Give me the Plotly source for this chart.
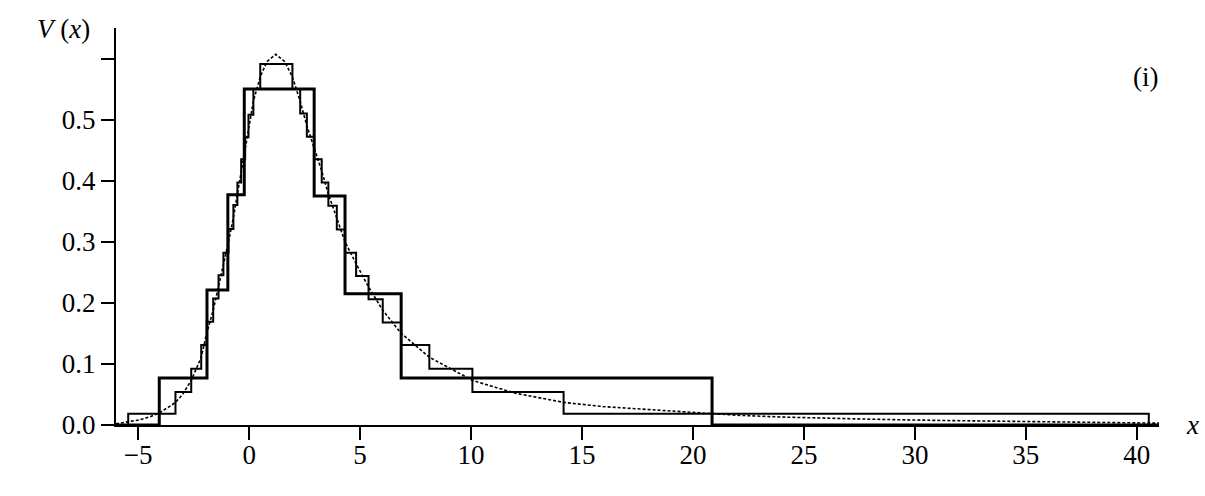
import plotly.graph_objects as go

# Coarse histogram (thick): bin edges and heights
coarse_edges = [-6, -4.05, -1.9, -0.96, -0.22, 2.93, 4.32, 6.85, 20.86, 41]
coarse_heights = [0, 0.077, 0.221, 0.377, 0.55, 0.375, 0.215, 0.077, 0]

# Fine histogram (thin): bin edges and heights
fine_edges = [-6, -5.45, -3.32, -2.61, -2.16, -1.91, -1.62, -1.38, -1.16, -0.93,
              -0.71, -0.53, -0.36, -0.18, -0.03, 0.19, 0.5, 1.95, 2.3, 2.6, 2.93,
              3.27, 3.57, 3.95, 4.32, 4.82, 5.38, 6.02, 6.85, 8.12, 10.06, 14.17,
              40.54, 41]
fine_heights = [0, 0.0185, 0.054, 0.092, 0.131, 0.169, 0.207, 0.245, 0.282, 0.321,
                0.36, 0.397, 0.435, 0.471, 0.508, 0.55, 0.591, 0.55, 0.51, 0.472,
                0.435, 0.397, 0.359, 0.32, 0.282, 0.244, 0.206, 0.168, 0.131, 0.092,
                0.054, 0.0185, 0]

# Density curve V(x) (dotted)
curve_x = [-6, -5.45, -5, -4.5, -4.05, -3.6, -3.32, -3, -2.61, -2.16, -1.91, -1.62,
           -1.38, -1.16, -0.93, -0.71, -0.53, -0.36, -0.18, -0.03, 0.19, 0.5, 0.8,
           1.2, 1.6, 1.95, 2.3, 2.6, 2.93, 3.27, 3.57, 3.95, 4.32, 4.82, 5.38, 6.02,
           6.85, 8.12, 10.06, 12, 14.17, 16, 18, 20, 22, 24, 26, 28, 31, 35, 38, 41]
curve_y = [0.002, 0.005, 0.008, 0.013, 0.02, 0.03, 0.037, 0.05, 0.073, 0.111, 0.15,
           0.188, 0.226, 0.264, 0.30, 0.34, 0.378, 0.416, 0.453, 0.49, 0.53, 0.57,
           0.595, 0.607, 0.595, 0.57, 0.53, 0.49, 0.453, 0.416, 0.378, 0.34, 0.30,
           0.264, 0.226, 0.188, 0.15, 0.111, 0.073, 0.052, 0.037, 0.03, 0.025,
           0.021, 0.016, 0.013, 0.011, 0.0095, 0.0075, 0.006, 0.0045, 0.003]

x_ticks = [-5, 0, 5, 10, 15, 20, 25, 30, 35, 40]
x_ticktext = ["\u22125", "0", "5", "10", "15", "20", "25", "30", "35", "40"]
y_ticks = [0.0, 0.1, 0.2, 0.3, 0.4, 0.5, 0.6]
y_ticktext = ["0.0", "0.1", "0.2", "0.3", "0.4", "0.5", ""]

FONT = "Liberation Serif"
FS = 27

fig = go.Figure()
fig.add_trace(go.Scatter(x=curve_x, y=curve_y, mode="lines",
                         line=dict(color="black", width=1.6, dash="3px,2px"),
                         hoverinfo="skip"))
fig.add_trace(go.Scatter(x=fine_edges, y=fine_heights + [fine_heights[-1]],
                         mode="lines", line=dict(color="black", width=2, shape="hv")))
fig.add_trace(go.Scatter(x=coarse_edges, y=coarse_heights + [coarse_heights[-1]],
                         mode="lines", line=dict(color="black", width=3, shape="hv")))

fig.update_layout(
    width=1205, height=496,
    margin=dict(l=116, r=46, t=28, b=71),
    paper_bgcolor="white", plot_bgcolor="white",
    showlegend=False,
    font=dict(family=FONT, size=FS, color="black"),
    xaxis=dict(range=[-6, 41], tickvals=x_ticks, ticktext=x_ticktext,
               showgrid=False, zeroline=False, showline=True, linecolor="black",
               linewidth=2, ticks="outside", ticklen=13, tickwidth=2,
               tickcolor="black", automargin=False, ticklabelstandoff=-8),
    yaxis=dict(range=[0, 0.65], tickvals=y_ticks, ticktext=y_ticktext,
               showgrid=False, zeroline=False, showline=True, linecolor="black",
               linewidth=2, ticks="outside", ticklen=13, tickwidth=2,
               tickcolor="black", automargin=False),
    annotations=[
        dict(x=-0.0499, y=0.997, xref="paper", yref="paper",
             text="<i>V</i> (<i>x</i>)", showarrow=False,
             xanchor="center", yanchor="middle",
             font=dict(family=FONT, size=FS)),
        dict(x=1.032, y=0.0, xref="paper", yref="paper", text="<i>x</i>",
             showarrow=False, xanchor="center", yanchor="middle",
             font=dict(family=FONT, size=FS)),
        dict(x=0.9866, y=0.8766, xref="paper", yref="paper", text="(i)",
             showarrow=False, xanchor="center", yanchor="middle",
             font=dict(family=FONT, size=FS)),
    ],
)

fig.write_html("out.html", config={"displayModeBar": False},
               post_script="document.body.style.margin='0';document.body.style.overflow='hidden';")
